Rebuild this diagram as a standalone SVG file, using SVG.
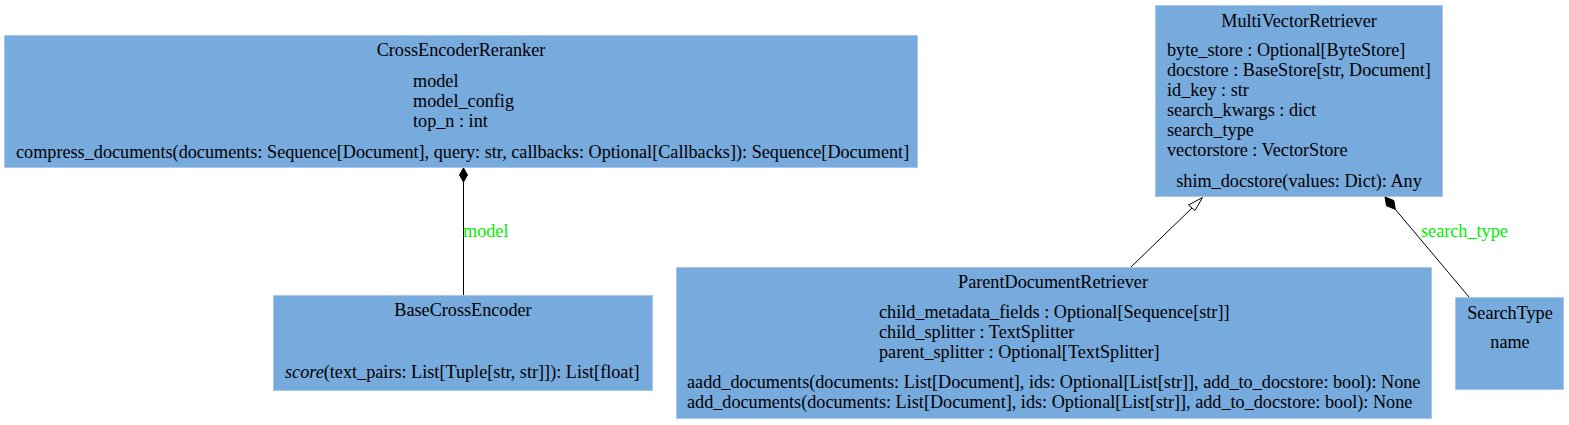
<svg xmlns="http://www.w3.org/2000/svg" width="1569" height="425" viewBox="0 0 1569 425">
<style>
.box{fill:#77aadd;stroke:#a8c8ec;stroke-width:1}
text{font-family:"Liberation Serif","Times New Roman",serif;font-size:18.2px;fill:#000}
.c{text-anchor:middle}
.lbl{fill:#00ee00}
.edge{stroke:#000;stroke-width:1;fill:none}
</style>
<rect width="1569" height="425" fill="#fff"/>
<g id="CrossEncoderReranker">
<rect class="box" x="4.5" y="35.5" width="913" height="132"/>
<text class="c" x="461" y="55.5">CrossEncoderReranker</text>
<text x="413" y="87">model</text>
<text x="413" y="107">model_config</text>
<text x="413" y="127">top_n : int</text>
<text x="16" y="158">compress_documents(documents: Sequence[Document], query: str, callbacks: Optional[Callbacks]): Sequence[Document]</text>
</g>
<g id="BaseCrossEncoder">
<rect class="box" x="273.5" y="295.5" width="379" height="95"/>
<text class="c" x="463" y="316">BaseCrossEncoder</text>
<text x="285" y="378"><tspan font-style="italic">score</tspan>(text_pairs: List[Tuple[str, str]]): List[float]</text>
</g>
<g id="MultiVectorRetriever">
<rect class="box" x="1155.5" y="5.5" width="287" height="191"/>
<text class="c" x="1299" y="26.5">MultiVectorRetriever</text>
<text x="1167" y="56">byte_store : Optional[ByteStore]</text>
<text x="1167" y="76">docstore : BaseStore[str, Document]</text>
<text x="1167" y="96">id_key : str</text>
<text x="1167" y="116">search_kwargs : dict</text>
<text x="1167" y="136">search_type</text>
<text x="1167" y="156">vectorstore : VectorStore</text>
<text class="c" x="1299" y="187">shim_docstore(values: Dict): Any</text>
</g>
<g id="ParentDocumentRetriever">
<rect class="box" x="676.5" y="267.5" width="755" height="151"/>
<text class="c" x="1053" y="288">ParentDocumentRetriever</text>
<text x="879" y="318">child_metadata_fields : Optional[Sequence[str]]</text>
<text x="879" y="338">child_splitter : TextSplitter</text>
<text x="879" y="358">parent_splitter : Optional[TextSplitter]</text>
<text x="687" y="388">aadd_documents(documents: List[Document], ids: Optional[List[str]], add_to_docstore: bool): None</text>
<text x="687" y="408">add_documents(documents: List[Document], ids: Optional[List[str]], add_to_docstore: bool): None</text>
</g>
<g id="SearchType">
<rect class="box" x="1455.5" y="297.5" width="108" height="92"/>
<text class="c" x="1510" y="318.5">SearchType</text>
<text class="c" x="1510" y="348">name</text>
</g>
<g id="connectors">
<path class="edge" d="M463.5,295 L463.5,182"/>
<polygon points="463.5,168 467.5,175 463.5,182 459.5,175" fill="#000" stroke="#000"/>
<text class="lbl" x="463" y="237">model</text>
<path class="edge" d="M1131,267 L1192,208"/>
<polygon points="1202.5,197.5 1195,210.5 1188.5,205" fill="#fff" stroke="#000"/>
<path class="edge" d="M1469,297 L1395,209"/>
<polygon points="1385,197 1393.8,200.5 1395.3,209.3 1386.5,205.8" fill="#000" stroke="#000"/>
<text class="lbl" x="1421" y="237">search_type</text>
</g>
</svg>
